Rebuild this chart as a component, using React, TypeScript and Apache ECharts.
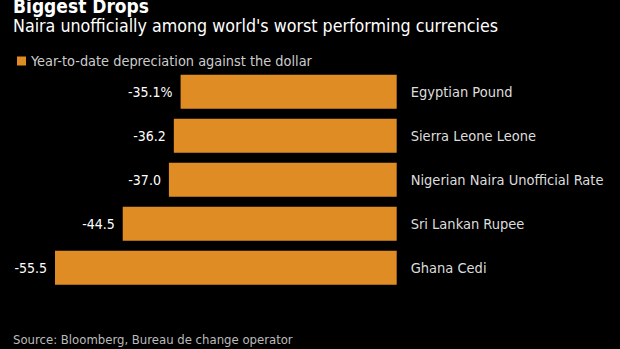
import React, { useEffect, useRef } from "react";
import * as echarts from "echarts";

const categories = [
  "Egyptian Pound",
  "Sierra Leone Leone",
  "Nigerian Naira Unofficial Rate",
  "Sri Lankan Rupee",
  "Ghana Cedi",
];
const values = [-35.1, -36.2, -37.0, -44.5, -55.5];
const valueLabels = ["-35.1%", "-36.2", "-37.0", "-44.5", "-55.5"];

const FONT = "'DejaVu Sans Condensed', 'DejaVu Sans', sans-serif";
const ORANGE = "#e08c24";

export default function App() {
  const ref = useRef<HTMLDivElement>(null);
  useEffect(() => {
    const chart = echarts.init(ref.current!, null, { renderer: "svg" });
    chart.setOption({
      animation: false,
      backgroundColor: "#000000",
      graphic: [
        {
          type: "text",
          left: 13,
          top: -4,
          style: { text: "Biggest Drops", fill: "#ffffff", font: `bold 19px ${FONT}` },
        },
        {
          type: "text",
          left: 13,
          top: 17,
          style: {
            text: "Naira unofficially among world's worst performing currencies",
            fill: "#ffffff",
            font: `17.7px ${FONT}`,
          },
        },
        {
          type: "text",
          left: 13,
          top: 333,
          style: { text: "Source: Bloomberg, Bureau de change operator", fill: "#bbbbbb", font: `13px ${FONT}` },
        },
      ],
      legend: {
        left: 12,
        top: 49,
        itemWidth: 9,
        itemHeight: 9,
        itemGap: 6,
        textStyle: { color: "#cccccc", fontSize: 14.4, fontFamily: FONT },
        data: [{ name: "Year-to-date depreciation against the dollar", icon: "rect" }],
      },
      grid: { left: 27.3, right: 223.3, top: 69.7, bottom: 59.3 },
      xAxis: {
        type: "value",
        min: -60,
        max: 0,
        show: false,
      },
      yAxis: {
        type: "category",
        data: categories,
        inverse: true,
        position: "right",
        axisLine: { show: false },
        axisTick: { show: false },
        axisLabel: { color: "#dddddd", fontSize: 14.5, fontFamily: FONT, margin: 14 },
      },
      series: [
        {
          name: "Year-to-date depreciation against the dollar",
          type: "bar",
          data: values,
          barCategoryGap: "22.7%",
          itemStyle: { color: ORANGE },
          label: {
            show: true,
            position: "left",
            distance: 8,
            color: "#ffffff",
            fontSize: 14,
            fontFamily: FONT,
            formatter: (p: any) => valueLabels[p.dataIndex],
          },
        },
      ],
    });
    return () => chart.dispose();
  }, []);
  return <div ref={ref} style={{ width: 620, height: 349, position: "fixed", left: 0, top: 0 }} />;
}
